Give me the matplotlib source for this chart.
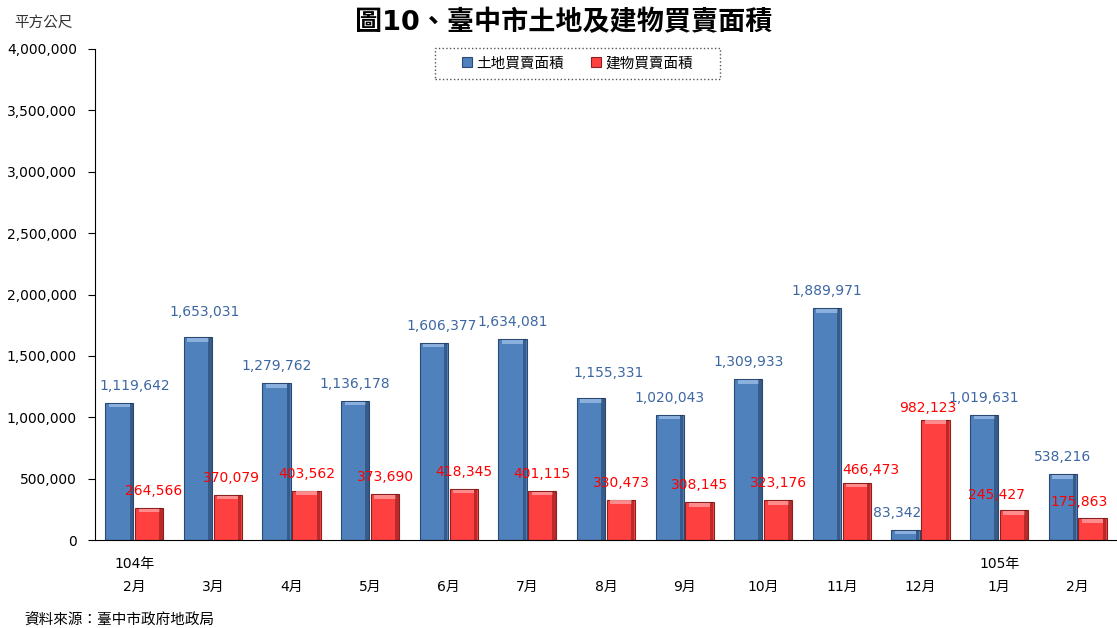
import numpy as np
import matplotlib
matplotlib.use('Agg')
import matplotlib.pyplot as plt
from matplotlib.patches import Rectangle

plt.rcParams['font.family'] = ['DejaVu Sans', 'Noto Sans CJK TC']

months = ['2月', '3月', '4月', '5月', '6月', '7月', '8月', '9月', '10月',
          '11月', '12月', '1月', '2月']
years = ['104年', '', '', '', '', '', '', '', '', '', '', '105年', '']
land = [1119642, 1653031, 1279762, 1136178, 1606377, 1634081, 1155331,
        1020043, 1309933, 1889971, 83342, 1019631, 538216]
building = [264566, 370079, 403562, 373690, 418345, 401115, 330473,
            308145, 323176, 466473, 982123, 245427, 175863]

# label nudges in pixels (dx, dy) where the original moved them
land_nudge = {0: (15, 0), 1: (7, 8), 4: (8, 0), 6: (18, 8), 10: (-8, 0)}
bld_nudge = {0: (4, 0), 1: (4, 0), 9: (14, -4), 10: (-8, -5), 11: (-18, -2),
             12: (-14, -1)}

fig = plt.figure(figsize=(11.17, 6.28), dpi=100)
ax = fig.add_axes([0.085, 0.140, 0.915, 0.782])

x = np.arange(len(months))
w = 0.36
b1 = ax.bar(x - 0.19, land, w, color='#4F81BD', edgecolor='#2A4A74',
            linewidth=0.8, label='土地買賣面積')
b2 = ax.bar(x + 0.19, building, w, color='#FF4040', edgecolor='#8A2020',
            linewidth=0.8, label='建物買賣面積')

# bevel look: light strip on top, dark strip on the right side
for bars, light, dark in ((b1, '#9CBCE6', '#1C2F4A'), (b2, '#FFA0A0', '#6A1010')):
    for r in bars:
        h = r.get_height()
        xc = r.get_x() + r.get_width() / 2
        strip = min(h * 0.5, 30000)
        ax.bar(xc, strip, r.get_width() * 0.75, bottom=h - strip * 1.25,
               color=light, linewidth=0, alpha=0.8)
        ax.bar(r.get_x() + r.get_width() * 0.92, h, r.get_width() * 0.12,
               color=dark, linewidth=0, alpha=0.45)

for i, v in enumerate(land):
    dx, dy = land_nudge.get(i, (0, 0))
    ax.annotate(f'{v:,}', (x[i] - 0.19, v),
                xytext=(dx * 0.72, (17 + dy) * 0.72),
                textcoords='offset points', ha='center', va='center',
                fontsize=10, color='#3D67A3')
for i, v in enumerate(building):
    dx, dy = bld_nudge.get(i, (0, 0))
    ax.annotate(f'{v:,}', (x[i] + 0.19, v),
                xytext=(dx * 0.72, (17 + dy) * 0.72),
                textcoords='offset points', ha='center', va='center',
                fontsize=10, color='#FF0000')

ax.set_xlim(-0.5, len(months) - 0.5)
ax.set_ylim(0, 4000000)
ax.set_yticks(np.arange(0, 4000001, 500000))
ax.set_yticklabels([f'{int(t):,}' for t in ax.get_yticks()], fontsize=10)
ax.set_xticks(x)
ax.set_xticklabels([f'{y}\n{m}' if y else f'\n{m}' for y, m in zip(years, months)],
                   fontsize=10, linespacing=1.85)
ax.tick_params(axis='x', length=0, pad=12)
ax.tick_params(axis='y', length=5, direction='out', pad=8)
for s in ('top', 'right'):
    ax.spines[s].set_visible(False)

leg = fig.legend(loc='center', bbox_to_anchor=(0.517, 0.900), ncol=2,
                 fontsize=10.5, frameon=False, handlelength=0.65,
                 handleheight=0.65, handletextpad=0.3, columnspacing=1.9)
fig.patches.append(Rectangle((435 / 1117, 1 - 79 / 628), 285 / 1117, 31 / 628,
                             transform=fig.transFigure, fill=False,
                             edgecolor='#555555', linestyle=':', linewidth=1.0))

fig.text(0.505, 0.964, '圖10、臺中市土地及建物買賣面積', ha='center',
         va='center', fontsize=19.5, fontweight='bold')
fig.text(0.013, 0.965, '平方公尺', ha='left', va='center', fontsize=10.5,
         color='#333333')
fig.text(0.022, 0.013, '資料來源：臺中市政府地政局', ha='left', va='center',
         fontsize=10.5)

fig.savefig('out.png', dpi=100)
